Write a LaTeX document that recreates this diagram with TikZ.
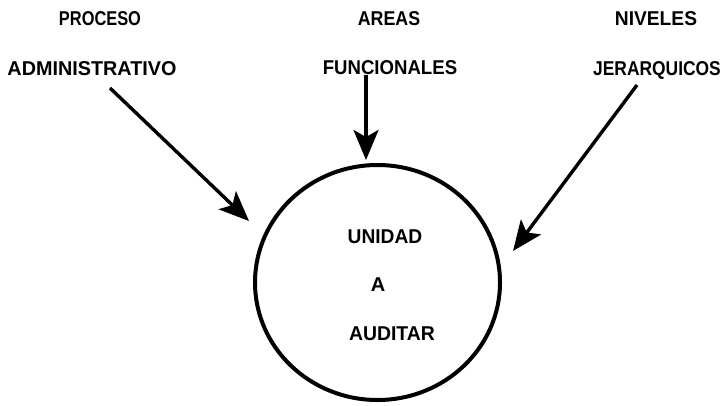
\documentclass[tikz,border=0pt]{standalone}
\usepackage{fontspec}
\setmainfont{Liberation Sans}
\usepackage{graphicx}
\usetikzlibrary{arrows.meta,shapes.geometric}
\newcommand{\hsq}[2]{\scalebox{#1}[1]{#2}}
\begin{document}
\begin{tikzpicture}[x=1pt,y=-1pt,
  lbl/.style={anchor=base,inner sep=0pt,font=\fontsize{20}{21}\selectfont\bfseries},
  feed/.style={line width=3.4pt,-{Stealth[length=30pt,width=25pt,inset=7pt]}},
  unit/.style={draw,ellipse,line width=4pt,inner sep=0pt,minimum width=245pt,minimum height=235pt}]
\useasboundingbox (0,0) rectangle (725,405);
% headings
\node[lbl] (proc) at (100,25) {\hsq{0.82}{PROCESO}};
\node[lbl] (admin) at (92,75) {\hsq{0.99}{ADMINISTRATIVO}};
\node[lbl] (areas) at (389,25) {\hsq{0.89}{AREAS}};
\node[lbl] (func) at (390,74) {\hsq{0.93}{FUNCIONALES}};
\node[lbl] (nive) at (656,25) {\hsq{0.96}{NIVELES}};
\node[lbl] (jerq) at (657,75) {\hsq{0.87}{JERARQUICOS}};
% circle
\node[unit] (unidad) at (377.5,282.5) {};
\node[lbl] (t1) at (385,243) {\hsq{0.96}{UNIDAD}};
\node[lbl] (t2) at (378,291) {A};
\node[lbl] (t3) at (392,340) {\hsq{0.97}{AUDITAR}};
% arrow ends
\coordinate (sL) at (110,88);
\coordinate (eL) at (249,221);
\coordinate (sM) at (366,75);
\coordinate (eM) at (366,160);
\coordinate (sR) at (637,85);
\coordinate (eR) at (513,251);
\draw[feed] (sL) -- (eL);
\draw[feed] (sM) -- (eM);
\draw[feed] (sR) -- (eR);
\end{tikzpicture}
\end{document}
